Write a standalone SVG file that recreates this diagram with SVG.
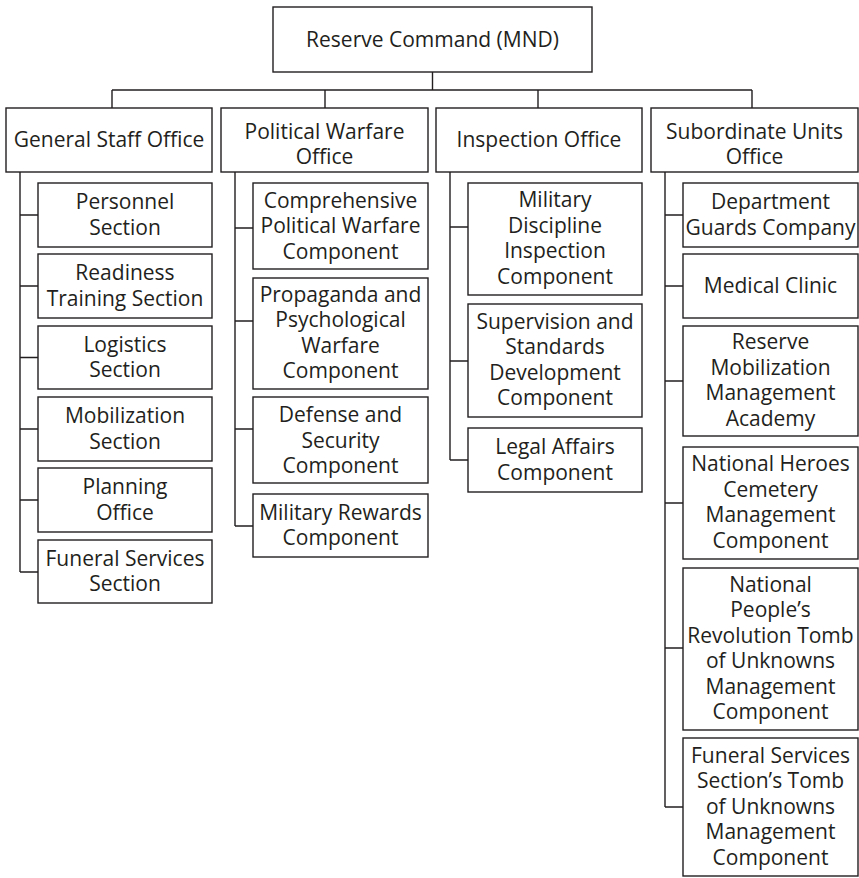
<svg xmlns="http://www.w3.org/2000/svg" width="859" height="878" viewBox="0 0 859 878">
<style>
rect{fill:#fff;stroke:#231f20;stroke-width:1.4}
.c line,.c path{stroke:#231f20;stroke-width:1.4;fill:none}
text{font-family:"Open Sans","Noto Sans","Liberation Sans",sans-serif;font-size:21px;fill:#231f20;text-anchor:middle}
</style>
<rect x="0" y="0" width="859" height="878" style="stroke:none"/>
<g class="c" id="connectors">
<path d="M432.5 72V90M112 90H752M112 90V108M325 90V108M538 90V108M752 90V108"/>
<path d="M20 172V572M20 215H38M20 286H38M20 357.5H38M20 429H38M20 500H38M20 572H38"/>
<path d="M235 172V526M235 228H253M235 321H253M235 429H253M235 526H253"/>
<path d="M450 172V460M450 227H468M450 361H468M450 460H468"/>
<path d="M665 172V807M665 215H683M665 286H683M665 381H683M665 503H683M665 648H683M665 807H683"/>
</g>
<g id="reserve-command"><rect x="273" y="7" width="319" height="65"/><text x="432.5" y="47">Reserve Command (MND)</text></g>
<g id="general-staff"><rect x="6" y="108" width="206" height="64"/><text x="109" y="147">General Staff Office</text></g>
<g id="political-warfare"><rect x="221" y="108" width="207" height="64"/><text x="324.5"><tspan x="324.5" y="138.5">Political Warfare</tspan><tspan x="324.5" y="164">Office</tspan></text></g>
<g id="inspection"><rect x="436" y="108" width="206" height="64"/><text x="539" y="147">Inspection Office</text></g>
<g id="subordinate-units"><rect x="651" y="108" width="207" height="64"/><text x="754.5"><tspan x="754.5" y="138.5">Subordinate Units</tspan><tspan x="754.5" y="164">Office</tspan></text></g>

<g id="personnel"><rect x="38" y="183" width="174" height="64"/><text><tspan x="125" y="209">Personnel</tspan><tspan x="125" y="234.5">Section</tspan></text></g>
<g id="readiness"><rect x="38" y="254" width="174" height="64"/><text><tspan x="125" y="280">Readiness</tspan><tspan x="125" y="305.5">Training Section</tspan></text></g>
<g id="logistics"><rect x="38" y="326" width="174" height="63"/><text><tspan x="125" y="351.5">Logistics</tspan><tspan x="125" y="377">Section</tspan></text></g>
<g id="mobilization"><rect x="38" y="397" width="174" height="64"/><text><tspan x="125" y="423">Mobilization</tspan><tspan x="125" y="448.5">Section</tspan></text></g>
<g id="planning"><rect x="38" y="468" width="174" height="64"/><text><tspan x="125" y="494">Planning</tspan><tspan x="125" y="519.5">Office</tspan></text></g>
<g id="funeral-services"><rect x="38" y="540" width="174" height="63"/><text><tspan x="125" y="565.5">Funeral Services</tspan><tspan x="125" y="591">Section</tspan></text></g>

<g id="comprehensive"><rect x="253" y="183" width="175" height="86"/><text><tspan x="340.5" y="207.5">Comprehensive</tspan><tspan x="340.5" y="233">Political Warfare</tspan><tspan x="340.5" y="258.5">Component</tspan></text></g>
<g id="propaganda"><rect x="253" y="278" width="175" height="111"/><text><tspan x="340.5" y="301.75">Propaganda and</tspan><tspan x="340.5" y="327.25">Psychological</tspan><tspan x="340.5" y="352.75">Warfare</tspan><tspan x="340.5" y="378.25">Component</tspan></text></g>
<g id="defense"><rect x="253" y="397" width="175" height="86"/><text><tspan x="340.5" y="422">Defense and</tspan><tspan x="340.5" y="447.5">Security</tspan><tspan x="340.5" y="473">Component</tspan></text></g>
<g id="military-rewards"><rect x="253" y="494" width="175" height="63"/><text><tspan x="340.5" y="519.5">Military Rewards</tspan><tspan x="340.5" y="545">Component</tspan></text></g>

<g id="military-discipline"><rect x="468" y="183" width="174" height="112"/><text><tspan x="555" y="207.25">Military</tspan><tspan x="555" y="232.75">Discipline</tspan><tspan x="555" y="258.25">Inspection</tspan><tspan x="555" y="283.75">Component</tspan></text></g>
<g id="supervision"><rect x="468" y="304" width="174" height="113"/><text><tspan x="555" y="328.75">Supervision and</tspan><tspan x="555" y="354.25">Standards</tspan><tspan x="555" y="379.75">Development</tspan><tspan x="555" y="405.25">Component</tspan></text></g>
<g id="legal-affairs"><rect x="468" y="428" width="174" height="64"/><text><tspan x="555" y="454">Legal Affairs</tspan><tspan x="555" y="479.5">Component</tspan></text></g>

<g id="department-guards"><rect x="683" y="183" width="175" height="64"/><text><tspan x="770.5" y="209">Department</tspan><tspan x="770.5" y="234.5">Guards Company</tspan></text></g>
<g id="medical-clinic"><rect x="683" y="254" width="175" height="64"/><text x="770.5" y="293">Medical Clinic</text></g>
<g id="reserve-mobilization"><rect x="683" y="326" width="175" height="110"/><text><tspan x="770.5" y="349.25">Reserve</tspan><tspan x="770.5" y="374.75">Mobilization</tspan><tspan x="770.5" y="400.25">Management</tspan><tspan x="770.5" y="425.75">Academy</tspan></text></g>
<g id="national-heroes"><rect x="683" y="447" width="175" height="112"/><text><tspan x="770.5" y="471.25">National Heroes</tspan><tspan x="770.5" y="496.75">Cemetery</tspan><tspan x="770.5" y="522.25">Management</tspan><tspan x="770.5" y="547.75">Component</tspan></text></g>
<g id="national-peoples"><rect x="683" y="568" width="175" height="162"/><text><tspan x="770.5" y="591.75">National</tspan><tspan x="770.5" y="617.25">People’s</tspan><tspan x="770.5" y="642.75">Revolution Tomb</tspan><tspan x="770.5" y="668.25">of Unknowns</tspan><tspan x="770.5" y="693.75">Management</tspan><tspan x="770.5" y="719.25">Component</tspan></text></g>
<g id="funeral-tomb"><rect x="683" y="738" width="175" height="138"/><text><tspan x="770.5" y="762.5">Funeral Services</tspan><tspan x="770.5" y="788">Section’s Tomb</tspan><tspan x="770.5" y="813.5">of Unknowns</tspan><tspan x="770.5" y="839">Management</tspan><tspan x="770.5" y="864.5">Component</tspan></text></g>
</svg>
